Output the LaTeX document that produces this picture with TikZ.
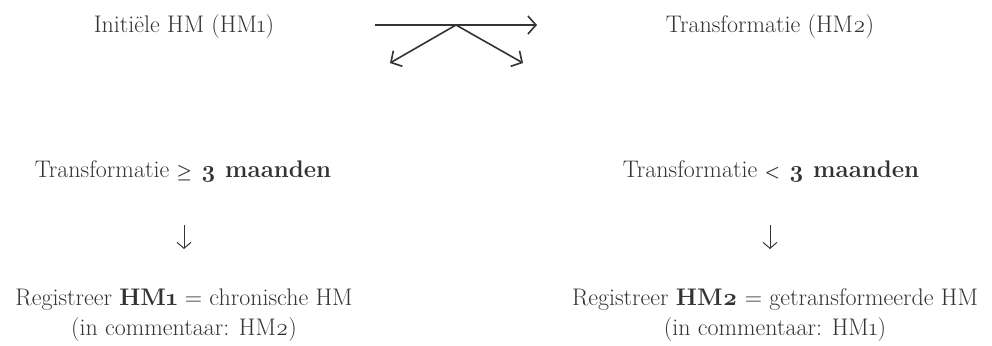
\documentclass[tikz,border=0pt]{standalone}
\usepackage{fontspec}
\setmainfont{Latin Modern Roman}
\usetikzlibrary{arrows.meta}
\definecolor{ink}{HTML}{333333}
\newcommand{\osn}[1]{{\addfontfeatures{Numbers=OldStyle}#1}}
\newcommand{\smallrel}[1]{{\fontsize{17bp}{17bp}\selectfont\boldmath$#1$}}
\begin{document}
\begin{tikzpicture}[x=1bp,y=-1bp,
  txt/.style={font=\fontsize{24bp}{30bp}\selectfont, text=ink, inner sep=0pt, anchor=base, align=center},
  link/.style={draw=ink, line width=1.6bp, -{Straight Barb[length=8bp,width=18bp,line width=1.6bp]}},
  drop/.style={draw=ink, line width=1bp, -{Straight Barb[length=6bp,width=14bp,line width=1bp]}}]
\useasboundingbox (0,0) rectangle (992,345);

% top row: initial and transformed states
\node[txt] (hm1) at (184,32) {Initiële HM (HM\osn{1})};
\node[txt] (hm2) at (770,32) {Transformatie (HM\osn{2})};

% transformation arrow, splitting into two branches
\coordinate (from) at (375,25);
\coordinate (split) at (456,25);
\coordinate (to) at (537,25);
\coordinate (lbr) at (390,63);
\coordinate (rbr) at (523,63);
\draw[link] (from) -- (to);
\draw[link] (split) -- (lbr);
\draw[link] (split) -- (rbr);

% left branch: at least three months
\node[txt] (tl) at (183,177) {Transformatie \textbf{\smallrel{\geq} \osn{3} maanden}};
\node[txt] (rl) at (184,335) {Registreer \textbf{HM\osn{1}} = chronische HM\\(in commentaar: HM\osn{2})};
\coordinate (tlb) at (184,225);
\coordinate (rlt) at (184,249);
\draw[drop] (tlb) -- (rlt);

% right branch: less than three months
\node[txt] (tr) at (771,177) {Transformatie \textbf{\smallrel{<} \osn{3} maanden}};
\node[txt] (rr) at (775,335) {Registreer \textbf{HM\osn{2}} = getransformeerde HM\\(in commentaar: HM\osn{1})};
\coordinate (trb) at (770,225);
\coordinate (rrt) at (770,249);
\draw[drop] (trb) -- (rrt);
\end{tikzpicture}
\end{document}
